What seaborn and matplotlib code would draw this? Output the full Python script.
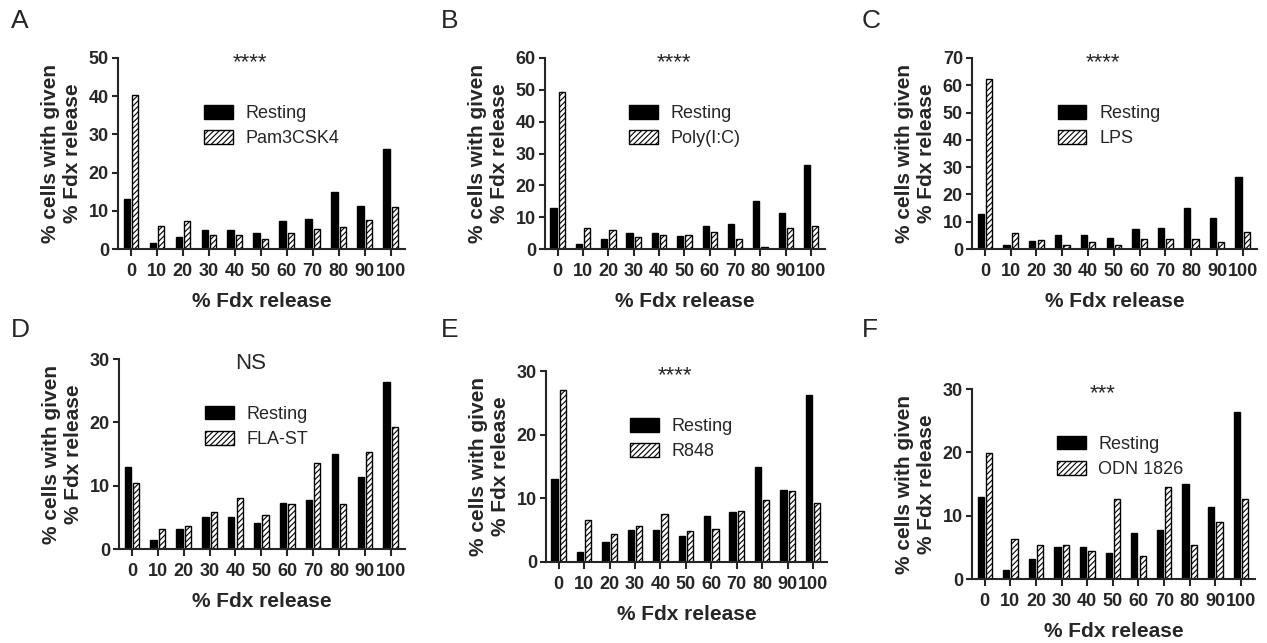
import matplotlib
matplotlib.use("Agg")
import matplotlib.pyplot as plt
import pandas as pd
import seaborn as sns

# % Fdx release bins (x categories)
release_bins = ["0", "10", "20", "30", "40", "50", "60", "70", "80", "90", "100"]

# resting cells, same in every panel
resting = [13.0, 1.5, 3.1, 5.1, 5.1, 4.1, 7.2, 7.8, 15.0, 11.3, 26.3]

# stimulated cells, one list per panel
pam3csk4 = [40.4, 6.1, 7.2, 3.7, 3.7, 2.6, 4.2, 5.2, 5.7, 7.7, 11.0]
poly_ic = [49.4, 6.5, 5.9, 3.8, 4.5, 4.5, 5.2, 3.1, 0.5, 6.5, 7.1]
lps = [62.2, 6.0, 3.3, 1.3, 2.6, 1.3, 3.8, 3.8, 3.8, 2.6, 6.1]
fla_st = [10.4, 3.2, 3.7, 5.9, 8.1, 5.4, 7.1, 13.6, 7.1, 15.3, 19.2]
r848 = [27.0, 6.6, 4.4, 5.7, 7.5, 4.8, 5.2, 8.0, 9.7, 11.1, 9.3]
odn1826 = [19.9, 6.3, 5.4, 5.4, 4.5, 12.7, 3.6, 14.5, 5.4, 9.0, 12.7]

panel_letters = ["A", "B", "C", "D", "E", "F"]
stim_names = ["Pam3CSK4", "Poly(I:C)", "LPS", "FLA-ST", "R848", "ODN 1826"]
stim_values = [pam3csk4, poly_ic, lps, fla_st, r848, odn1826]
significance = ["****", "****", "****", "NS", "****", "***"]
y_max = [50, 60, 70, 30, 30, 30]

sns.set_style("ticks")
plt.rcParams["font.family"] = ["Liberation Sans", "DejaVu Sans"]
plt.rcParams["hatch.linewidth"] = 0.8

W, H = 1267, 643
fig = plt.figure(figsize=(W / 100, H / 100), dpi=100)

# axes boxes in pixels: left, top, right, bottom
boxes = [
    (118, 58, 405, 249),
    (545, 58, 825, 249),
    (972, 58, 1257, 249),
    (119, 359, 405, 549),
    (546, 371, 827, 562),
    (972, 389, 1255, 579),
]
letter_xy = [(11, 28), (441, 28), (862, 28), (11, 337), (441, 337), (862, 337)]

for i, (l, t, r, b) in enumerate(boxes):
    ax = fig.add_axes([l / W, 1 - b / H, (r - l) / W, (b - t) / H])

    df = pd.DataFrame({
        "release": release_bins * 2,
        "pct": resting + stim_values[i],
        "cond": ["Resting"] * len(release_bins) + [stim_names[i]] * len(release_bins),
    })
    sns.barplot(data=df, x="release", y="pct", hue="cond", order=release_bins,
                palette=["black", "white"], width=0.65, gap=0.25,
                edgecolor="black", linewidth=1, legend=False, ax=ax)
    for p in ax.containers[1]:
        p.set_hatch("//////")
        p.set_facecolor("white")
        p.set_edgecolor("black")

    ax.legend(ax.containers, ["Resting", stim_names[i]], loc="center left",
              bbox_to_anchor=(0.30, 0.643), frameon=False, fontsize=13,
              borderpad=0, borderaxespad=0, handlelength=1.6, handleheight=0.8,
              handletextpad=0.7, labelspacing=0.45)

    ax.set_xlim(-0.5, 10.55)
    ax.set_ylim(0, y_max[i])
    ax.set_yticks(range(0, y_max[i] + 1, 10))
    sns.despine(ax=ax)
    for s in ["left", "bottom"]:
        ax.spines[s].set_linewidth(1.5)
    ax.tick_params(axis="y", length=4.5, width=1.5, pad=2, labelsize=13)
    ax.tick_params(axis="x", length=5, width=1.5, pad=5, labelsize=13)
    for lab in ax.get_xticklabels() + ax.get_yticklabels():
        lab.set_fontweight("bold")

    ax.set_xlabel("% Fdx release", fontsize=15, fontweight="bold", labelpad=9)
    ax.set_ylabel("% cells with given\n% Fdx release", fontsize=15,
                  fontweight="bold", labelpad=5)

    ax.text(0.46, 0.975, significance[i], transform=ax.transAxes,
            ha="center", va="center", fontsize=16)

    lx, ly = letter_xy[i]
    fig.text(lx / W, 1 - ly / H, panel_letters[i], fontsize=19,
             ha="left", va="baseline")

fig.savefig("out.png", dpi=100)
